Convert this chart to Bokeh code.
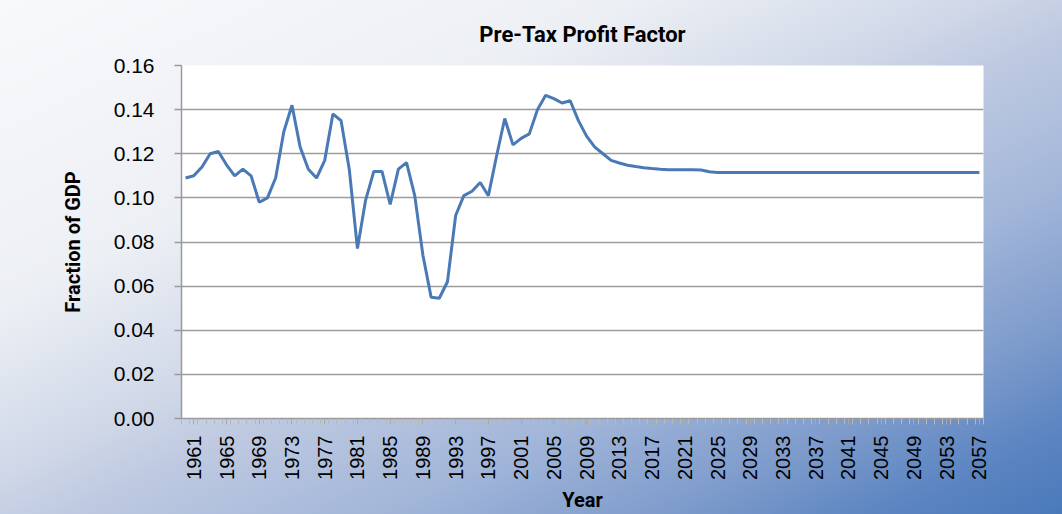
import numpy as np
from bokeh.plotting import figure
from bokeh.models import FixedTicker, Range1d, InlineStyleSheet, NumeralTickFormatter, Title
from bokeh.embed import file_html
from bokeh.resources import INLINE

# ---- data ----
years = list(range(1960, 2058))
profit_share = [
    0.109, 0.110, 0.114, 0.120, 0.121, 0.115, 0.110, 0.113, 0.110, 0.098,   # 1960-1969
    0.100, 0.109, 0.130, 0.142, 0.123, 0.113, 0.109, 0.117, 0.138, 0.135,   # 1970-1979
    0.113, 0.077, 0.099, 0.112, 0.112, 0.097, 0.113, 0.116, 0.101, 0.074,   # 1980-1989
    0.055, 0.0545, 0.062, 0.092, 0.101, 0.103, 0.107, 0.101, 0.119, 0.136,  # 1990-1999
    0.124, 0.127, 0.129, 0.140, 0.1465, 0.145, 0.143, 0.144, 0.135, 0.128,  # 2000-2009
    0.123, 0.120, 0.117, 0.1158, 0.1148, 0.1142, 0.1137, 0.1133, 0.1130, 0.1128,  # 2010-2019
    0.1127, 0.1127, 0.1127, 0.1126, 0.1118, 0.1115, 0.1115, 0.1115, 0.1115, 0.1115,  # 2020-2029
    0.1115, 0.1115, 0.1115, 0.1115, 0.1115, 0.1115, 0.1115, 0.1115, 0.1115, 0.1115,  # 2030-2039
    0.1115, 0.1115, 0.1115, 0.1115, 0.1115, 0.1115, 0.1115, 0.1115, 0.1115, 0.1115,  # 2040-2049
    0.1115, 0.1115, 0.1115, 0.1115, 0.1115, 0.1115, 0.1115, 0.1115,                  # 2050-2057
]
x_tick_years = [1961, 1965, 1969, 1973, 1977, 1981, 1985, 1989, 1993, 1997, 2001, 2005,
                2009, 2013, 2017, 2021, 2025, 2029, 2033, 2037, 2041, 2045, 2049, 2053, 2057]
y_ticks = [0.00, 0.02, 0.04, 0.06, 0.08, 0.10, 0.12, 0.14, 0.16]

title_text = "Pre-Tax Profit Factor"
x_title = "Year"
y_title = "Fraction of GDP"

bold_font = "Roboto"

# ---- figure ----
p = figure(width=1062, height=514, output_backend="svg", toolbar_location=None,
           x_range=Range1d(years[0] - 0.5, years[-1] + 0.5),
           y_range=Range1d(y_ticks[0], y_ticks[-1]),
           min_border_left=181, min_border_right=79,
           min_border_top=65, min_border_bottom=94)

p.title = Title(text=title_text, align="center", text_font=bold_font, text_font_style="bold",
                text_font_size="22px", text_color="black", standoff=38)

p.border_fill_color = None
p.background_fill_color = "white"
p.outline_line_color = None
p.stylesheets = [InlineStyleSheet(css=""":host {
  background: linear-gradient(to bottom right,
      #f8f9fb 0%, #eceff4 30%, #d0d8e8 46%, #bfcae1 53%,
      #a2b6d9 68%, #7c9acb 82%, #5d86c2 91%, #4a79ba 100%);
}""")]

boundaries = [y - 0.5 for y in years] + [years[-1] + 0.5]

# x axis
xa = p.xaxis[0]
xa.ticker = FixedTicker(ticks=x_tick_years, minor_ticks=boundaries)
xa.major_label_orientation = np.pi / 2
xa.major_label_text_font = "Liberation Sans"
xa.major_label_text_font_size = "20px"
xa.major_label_text_color = "black"
xa.major_label_standoff = 11
xa.axis_line_color = "#9a9a9a"
xa.axis_line_width = 1.5
xa.major_tick_line_color = "#a8a8a8"
xa.minor_tick_line_color = "#b8b8b8"
xa.major_tick_out = 6
xa.major_tick_in = 0
xa.minor_tick_out = 6
xa.minor_tick_in = 0
xa.axis_label = x_title
xa.axis_label_text_font = bold_font
xa.axis_label_text_font_style = "bold"
xa.axis_label_text_font_size = "20px"
xa.axis_label_text_color = "black"
xa.axis_label_standoff = 5
p.xgrid.visible = False

# y axis
ya = p.yaxis[0]
ya.ticker = FixedTicker(ticks=y_ticks)
ya.formatter = NumeralTickFormatter(format="0.00")
ya.major_label_text_font = "Liberation Sans"
ya.major_label_text_font_size = "21px"
ya.major_label_text_color = "black"
ya.major_label_standoff = 20
ya.axis_line_color = "#9a9a9a"
ya.axis_line_width = 1.5
ya.major_tick_line_color = "#9a9a9a"
ya.major_tick_line_width = 1.5
ya.major_tick_out = 7
ya.major_tick_in = 0
ya.minor_tick_line_color = None
ya.axis_label = y_title
ya.axis_label_text_font = bold_font
ya.axis_label_text_font_style = "bold"
ya.axis_label_text_font_size = "20px"
ya.axis_label_text_color = "black"
ya.axis_label_standoff = 26
p.ygrid.grid_line_color = "#9d9d9d"
p.ygrid.grid_line_width = 1.5

# data line
p.line(years, profit_share, line_color="#4a79b6", line_width=3)

open("out.html", "w").write(file_html(p, INLINE))
